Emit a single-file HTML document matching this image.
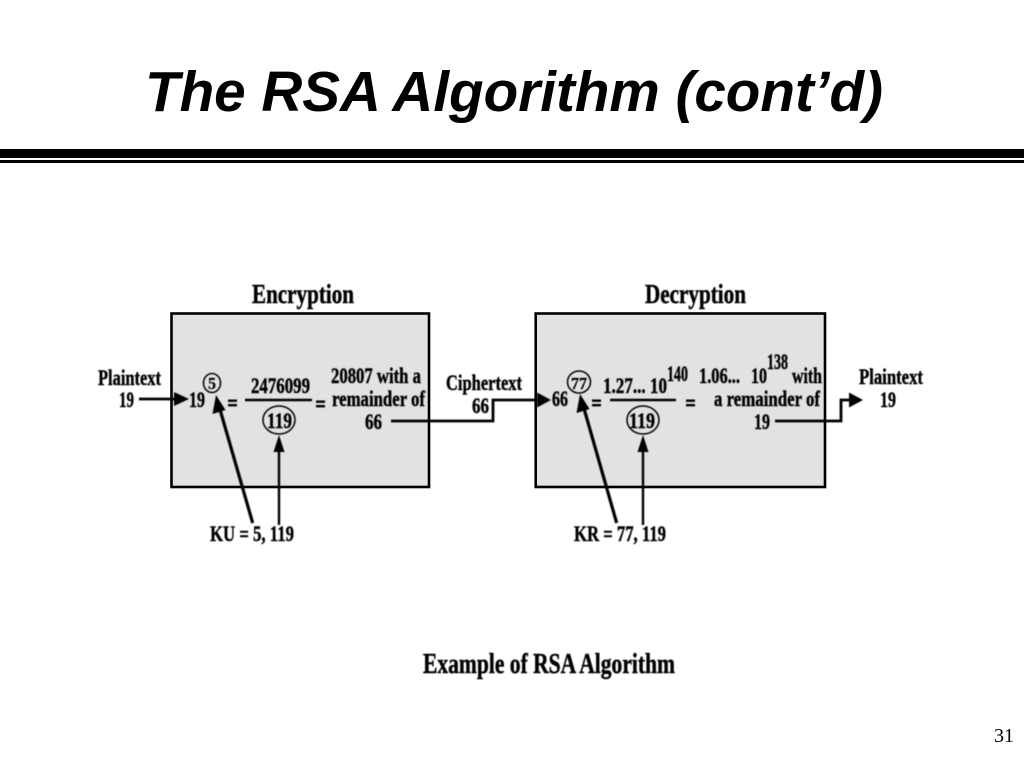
<!DOCTYPE html>
<html>
<head>
<meta charset="utf-8">
<style>
html,body{margin:0;padding:0;background:#fff;width:1024px;height:768px;overflow:hidden}
svg{display:block}
.t{font-family:"Liberation Serif",serif;font-weight:bold;fill:#000;stroke:#000;stroke-width:.45}
.s{stroke-width:.2}
</style>
</head>
<body>
<svg width="1024" height="768" viewBox="0 0 1024 768" xmlns="http://www.w3.org/2000/svg">
<defs>
<filter id="b" x="-5%" y="-5%" width="110%" height="110%"><feGaussianBlur stdDeviation="0.45"/></filter>
</defs>
<rect width="1024" height="768" fill="#fff"/>
<text x="145" y="111" font-family="'Liberation Sans',sans-serif" font-weight="bold" font-style="italic" font-size="57" textLength="738" lengthAdjust="spacingAndGlyphs">The RSA Algorithm (cont’d)</text>
<rect x="0" y="149" width="1024" height="9" fill="#000"/>
<rect x="0" y="160" width="1024" height="3" fill="#000"/>
<text x="994" y="742" font-family="'Liberation Serif',serif" font-size="20" textLength="20" lengthAdjust="spacingAndGlyphs">31</text>

<rect x="171.500" y="313.500" width="257.500" height="173.500" fill="#e2e2e2" stroke="#000" stroke-width="2.600"/>
<rect x="535.700" y="313.500" width="289.300" height="173.500" fill="#e2e2e2" stroke="#000" stroke-width="2.600"/>

<g filter="url(#b)">
<g fill="none" stroke="#000">
<path d="M139 399H176" stroke-width="2.800"/>
<path d="M391 421H493V400H538" stroke-width="2.800"/>
<path d="M775 421H841V400H851" stroke-width="2.800"/>
<path d="M252.700 523L219 406" stroke-width="3.200"/>
<path d="M616.700 523L583 405" stroke-width="3.200"/>
<path d="M279 525V450" stroke-width="2.400"/>
<path d="M643 525V450" stroke-width="2.400"/>
<path d="M245 400H312" stroke-width="2.600"/>
<path d="M610 400H676" stroke-width="2.600"/>
<ellipse cx="212" cy="383" rx="8.500" ry="9.500" stroke-width="1.500"/>
<ellipse cx="279" cy="420" rx="16" ry="14" stroke-width="1.500"/>
<ellipse cx="579" cy="382" rx="11.500" ry="11" stroke-width="1.500"/>
<ellipse cx="643" cy="420" rx="16" ry="14" stroke-width="1.500"/>
</g>
<g fill="#000">
<path d="M174 392L189 399L174 406Z"/>
<path d="M537 392.500L551 400L537 407.500Z"/>
<path d="M849 392.500L863 400L849 407.500Z"/>
<path d="M216 395L225.500 410L212.500 414Z"/>
<path d="M580 394L589.500 409L576.500 413Z"/>
<path d="M279 435L284.500 452H273.500Z"/>
<path d="M643 435L648.500 452H637.500Z"/>
<rect x="228" y="399.500" width="9" height="2.400"/><rect x="228" y="404" width="9" height="2.400"/>
<rect x="316" y="400.500" width="9" height="2.400"/><rect x="316" y="405" width="9" height="2.400"/>
<rect x="592" y="399.500" width="9" height="2.400"/><rect x="592" y="404" width="9" height="2.400"/>
<rect x="686" y="399.500" width="9" height="2.400"/><rect x="686" y="404" width="9" height="2.400"/>
</g>

<g class="t" font-size="27">
<text x="252" y="303" textLength="102" lengthAdjust="spacingAndGlyphs">Encryption</text>
<text x="645" y="303" textLength="101" lengthAdjust="spacingAndGlyphs">Decryption</text>
</g>
<text class="t" x="423" y="673" font-size="29" textLength="252" lengthAdjust="spacingAndGlyphs">Example of RSA Algorithm</text>

<g class="t" font-size="22">
<text x="98" y="385" textLength="63" lengthAdjust="spacingAndGlyphs">Plaintext</text>
<text x="119" y="407" textLength="15" lengthAdjust="spacingAndGlyphs">19</text>
<text x="446" y="390" textLength="76" lengthAdjust="spacingAndGlyphs">Ciphertext</text>
<text x="472" y="413" textLength="17" lengthAdjust="spacingAndGlyphs">66</text>
<text x="210" y="541" textLength="84" lengthAdjust="spacingAndGlyphs">KU = 5, 119</text>
<text x="574" y="541" textLength="92" lengthAdjust="spacingAndGlyphs">KR = 77, 119</text>
<text x="859" y="384" textLength="64" lengthAdjust="spacingAndGlyphs">Plaintext</text>
<text x="880" y="407" textLength="16" lengthAdjust="spacingAndGlyphs">19</text>
<text x="189" y="407" textLength="16" lengthAdjust="spacingAndGlyphs">19</text>
<text x="251" y="393" textLength="59" lengthAdjust="spacingAndGlyphs">2476099</text>
<text x="267" y="428" textLength="25" lengthAdjust="spacingAndGlyphs">119</text>
<text x="331" y="383" textLength="90" lengthAdjust="spacingAndGlyphs">20807 with a</text>
<text x="332" y="406" textLength="93" lengthAdjust="spacingAndGlyphs">remainder of</text>
<text x="365" y="429" textLength="17" lengthAdjust="spacingAndGlyphs">66</text>
<text x="552" y="406" textLength="16" lengthAdjust="spacingAndGlyphs">66</text>
<text x="603" y="393" textLength="64" lengthAdjust="spacingAndGlyphs">1.27... 10</text>
<text x="667" y="381" textLength="21" lengthAdjust="spacingAndGlyphs">140</text>
<text x="629" y="428" textLength="26" lengthAdjust="spacingAndGlyphs">119</text>
<text x="699" y="383" textLength="41" lengthAdjust="spacingAndGlyphs">1.06...</text>
<text x="751" y="383" textLength="16" lengthAdjust="spacingAndGlyphs">10</text>
<text x="767" y="369" textLength="21" lengthAdjust="spacingAndGlyphs">138</text>
<text x="792" y="383" textLength="30" lengthAdjust="spacingAndGlyphs">with</text>
<text x="714" y="406" textLength="106" lengthAdjust="spacingAndGlyphs">a remainder of</text>
<text x="754" y="429" textLength="16" lengthAdjust="spacingAndGlyphs">19</text>
</g>
<g class="t s" font-size="17">
<text x="208" y="389" textLength="8" lengthAdjust="spacingAndGlyphs">5</text>
<text x="571" y="389" textLength="16" lengthAdjust="spacingAndGlyphs">77</text>
</g>
</g>
</svg>
</body>
</html>
